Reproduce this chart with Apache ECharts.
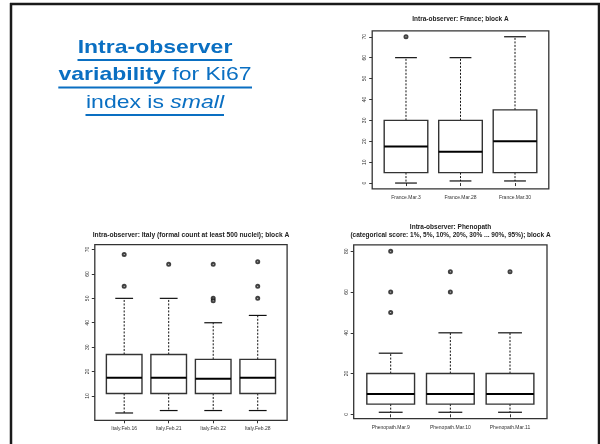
<!DOCTYPE html>
<html><head><meta charset="utf-8">
<script src="https://cdn.jsdelivr.net/npm/echarts@6/dist/echarts.min.js"></script>
<style>html,body{margin:0;padding:0;background:#fff}#c{width:600px;height:444px}</style>
</head><body><div id="c"></div>
<script>
// ---------- DATA ----------
// box stats: [lower whisker, Q1, median, Q3, upper whisker]
const franceCategories = ['France.Mar.3', 'France.Mar.28', 'France.Mar.30'];
const franceBoxes = [[0, 5, 17.5, 30, 60], [1, 5, 15, 30, 60], [1, 5, 20, 35, 70]];
const franceOutliers = [[1, 70]]; // [category position (1-based), value]
const franceTicks = [0, 10, 20, 30, 40, 50, 60, 70];

const italyCategories = ['Italy.Feb.16', 'Italy.Feb.21', 'Italy.Feb.22', 'Italy.Feb.28'];
const italyBoxes = [[3, 11, 17.4, 27, 50], [4, 11, 17.4, 27, 50], [4, 11, 17, 25, 40], [4, 11, 17.4, 25, 43]];
const italyOutliers = [[1, 68], [1, 55], [2, 64], [3, 64], [3, 50], [3, 49], [4, 65], [4, 55], [4, 50]];
const italyTicks = [10, 20, 30, 40, 50, 60, 70];

const phenoCategories = ['Phenopath.Mar.9', 'Phenopath.Mar.10', 'Phenopath.Mar.11'];
const phenoBoxes = [[1, 5, 10, 20, 30], [1, 5, 10, 20, 40], [1, 5, 10, 20, 40]];
const phenoOutliers = [[1, 80], [1, 60], [1, 50], [2, 70], [2, 60], [3, 70]];
const phenoTicks = [0, 20, 40, 60, 80];

const franceTitle = 'Intra-observer: France; block A';
const italyTitle = 'Intra-observer: Italy (formal count at least 500 nuclei); block A';
const phenoTitle1 = 'Intra-observer: Phenopath';
const phenoTitle2 = '(categorical score: 1%, 5%, 10%, 20%, 30% ... 90%, 95%); block A';

// ---------- LAYOUT ----------
const panels = [
  {cats: franceCategories, boxes: franceBoxes, out: franceOutliers, ticks: franceTicks,
   grid: {left: 372.2, top: 30.9, width: 176.6, height: 158}, ymin: -2.8, ymax: 72.8},
  {cats: italyCategories, boxes: italyBoxes, out: italyOutliers, ticks: italyTicks,
   grid: {left: 94.8, top: 244.7, width: 192.3, height: 175.6}, ymin: 0, ymax: 72},
  {cats: phenoCategories, boxes: phenoBoxes, out: phenoOutliers, ticks: phenoTicks,
   grid: {left: 353.7, top: 244.9, width: 193.3, height: 173.8}, ymin: -2.16, ymax: 83.16}
];

const FONT = '"Liberation Sans", Arial, sans-serif';
const BLUE = '#0a6fc2';

function boxRender(params, api) {
  const x = api.value(0);
  const lo = api.value(1), q1 = api.value(2), med = api.value(3), q3 = api.value(4), hi = api.value(5);
  const bw = 0.4, cw = 0.2;
  const tl = api.coord([x - bw, q3]);
  const br = api.coord([x + bw, q1]);
  const mL = api.coord([x - bw, med]), mR = api.coord([x + bw, med]);
  const cHiL = api.coord([x - cw, hi]), cHiR = api.coord([x + cw, hi]);
  const cLoL = api.coord([x - cw, lo]), cLoR = api.coord([x + cw, lo]);
  const c = api.coord([x, q3])[0];
  const dash = {stroke: '#111', lineWidth: 1, lineDash: [2, 1.5]};
  const solid = {stroke: '#111', lineWidth: 1.2};
  return {
    type: 'group',
    children: [
      {type: 'line', shape: {x1: c, y1: tl[1], x2: c, y2: cHiL[1]}, style: dash},
      {type: 'line', shape: {x1: c, y1: br[1], x2: c, y2: cLoL[1]}, style: dash},
      {type: 'line', shape: {x1: cHiL[0], y1: cHiL[1], x2: cHiR[0], y2: cHiR[1]}, style: solid},
      {type: 'line', shape: {x1: cLoL[0], y1: cLoL[1], x2: cLoR[0], y2: cLoR[1]}, style: solid},
      {type: 'rect', shape: {x: tl[0], y: tl[1], width: br[0] - tl[0], height: br[1] - tl[1]},
       style: {fill: '#fff', stroke: '#333', lineWidth: 1.4}},
      {type: 'line', shape: {x1: mL[0], y1: mL[1], x2: mR[0], y2: mR[1]}, style: {stroke: '#000', lineWidth: 2}}
    ]
  };
}

const grids = [], xAxes = [], yAxes = [], series = [];
panels.forEach((p, i) => {
  const n = p.cats.length;
  const pos = p.cats.map((_, k) => k + 1);
  grids.push(Object.assign({show: true, borderColor: '#333', borderWidth: 1.3, backgroundColor: 'transparent',
    outerBoundsMode: 'none', containLabel: false}, p.grid));
  xAxes.push({type: 'value', gridIndex: i, min: 0.5 - 0.04 * n, max: n + 0.5 + 0.04 * n,
    axisLine: {show: false}, splitLine: {show: false},
    axisTick: {show: true, customValues: pos, length: 3, lineStyle: {color: '#333', width: 1}},
    axisLabel: {show: true, customValues: pos, margin: 6, fontSize: 5, color: '#333', fontFamily: FONT,
      formatter: v => p.cats[Math.round(v) - 1] || ''}});
  yAxes.push({type: 'value', gridIndex: i, min: p.ymin, max: p.ymax,
    axisLine: {show: false}, splitLine: {show: false},
    axisTick: {show: true, customValues: p.ticks, length: 3, lineStyle: {color: '#333', width: 1}},
    axisLabel: {show: true, customValues: p.ticks, rotate: 90, margin: 5, fontSize: 5, color: '#333', fontFamily: FONT}});
  series.push({type: 'custom', xAxisIndex: i, yAxisIndex: i, renderItem: boxRender,
    encode: {x: 0, y: [1, 2, 3, 4, 5]},
    data: p.boxes.map((b, k) => [k + 1].concat(b)), silent: true, animation: false});
  series.push({type: 'scatter', xAxisIndex: i, yAxisIndex: i, data: p.out, symbol: 'emptyCircle', symbolSize: 3,
    itemStyle: {color: '#111', borderWidth: 1.1}, silent: true, animation: false});
});

const titleFont = 'bold 6.5px ' + FONT;
const graphics = [
  // slide border
  {type: 'line', shape: {x1: 10, y1: 4, x2: 600, y2: 4}, style: {stroke: '#1a1a1a', lineWidth: 2.5}},
  {type: 'line', shape: {x1: 11, y1: 3, x2: 11, y2: 444}, style: {stroke: '#1a1a1a', lineWidth: 2.5}},
  {type: 'line', shape: {x1: 599, y1: 3, x2: 599, y2: 444}, style: {stroke: '#1a1a1a', lineWidth: 2.5}},
  // chart titles
  {type: 'text', x: 460.5, y: 19, style: {text: franceTitle, font: titleFont, fill: '#222', align: 'center', verticalAlign: 'middle'}},
  {type: 'text', x: 191, y: 235, style: {text: italyTitle, font: 'bold 6.7px ' + FONT, fill: '#222', align: 'center', verticalAlign: 'middle'}},
  {type: 'text', x: 450.5, y: 227.3, style: {text: phenoTitle1, font: titleFont, fill: '#222', align: 'center', verticalAlign: 'middle'}},
  {type: 'text', x: 450.5, y: 235.5, style: {text: phenoTitle2, font: titleFont, fill: '#222', align: 'center', verticalAlign: 'middle'}},
  // slide heading
  {type: 'text', x: 155, y: 48, scaleY: 0.77, style: {text: '{b|Intra-observer}', align: 'center', verticalAlign: 'middle',
    rich: {b: {font: 'bold 23px ' + FONT, fill: BLUE}}}},
  {type: 'text', x: 155, y: 75.5, scaleY: 0.77, style: {text: '{b|variability}{n| for Ki67}', align: 'center', verticalAlign: 'middle',
    rich: {b: {font: 'bold 23px ' + FONT, fill: BLUE}, n: {font: '23px ' + FONT, fill: BLUE}}}},
  {type: 'text', x: 155, y: 103, scaleY: 0.77, style: {text: '{n|index is }{i|small}', align: 'center', verticalAlign: 'middle',
    rich: {n: {font: '23px ' + FONT, fill: BLUE}, i: {font: 'italic 23px ' + FONT, fill: BLUE}}}},
  {type: 'line', shape: {x1: 77.5, y1: 60, x2: 232.3, y2: 60}, style: {stroke: BLUE, lineWidth: 1.8}},
  {type: 'line', shape: {x1: 58.3, y1: 87.5, x2: 252, y2: 87.5}, style: {stroke: BLUE, lineWidth: 1.8}},
  {type: 'line', shape: {x1: 85.5, y1: 115, x2: 224, y2: 115}, style: {stroke: BLUE, lineWidth: 1.8}}
];

const chart = echarts.init(document.getElementById('c'), null, {renderer: 'canvas'});
chart.setOption({
  backgroundColor: '#fff',
  animation: false,
  grid: grids, xAxis: xAxes, yAxis: yAxes, series: series,
  graphic: graphics
});
</script></body></html>
